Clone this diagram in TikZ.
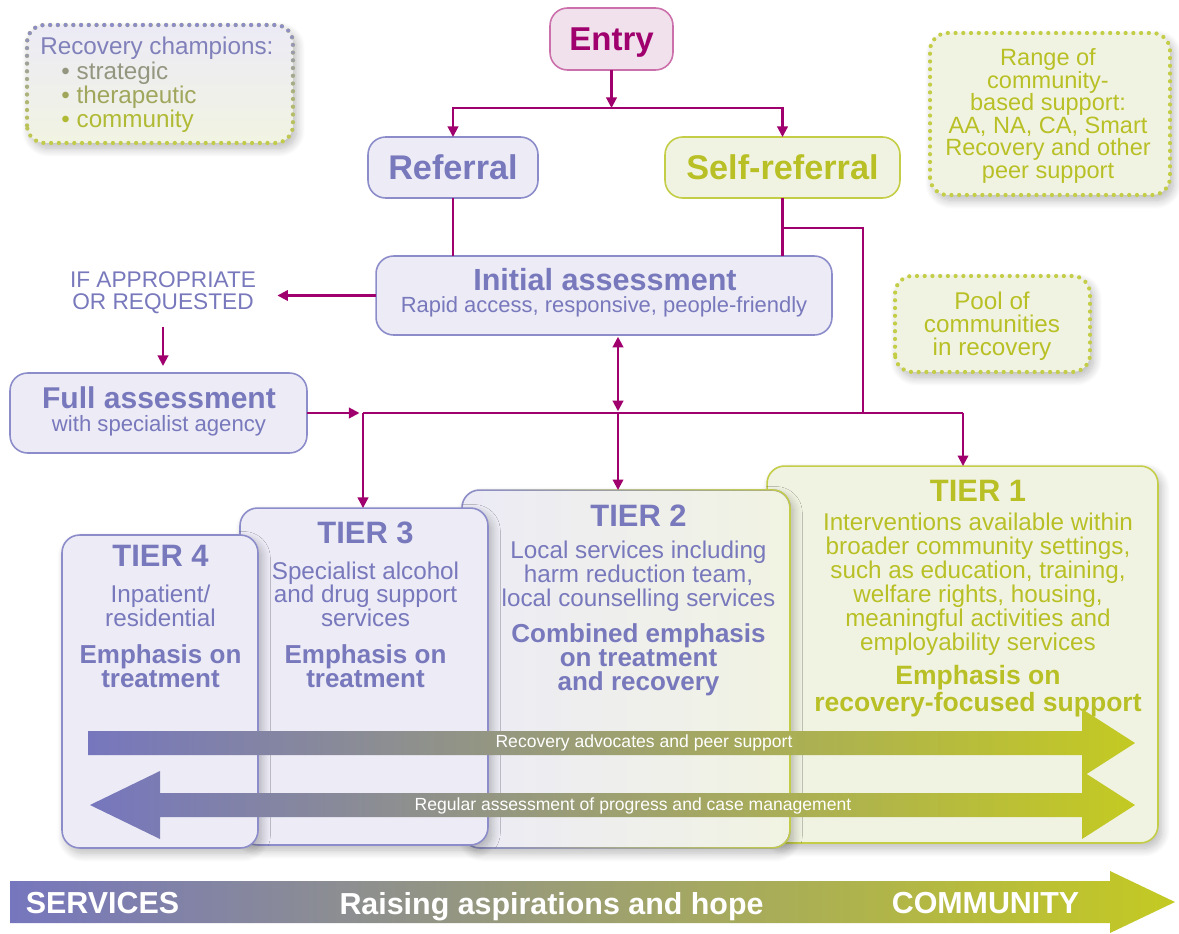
\documentclass[tikz,border=0pt]{standalone}
\usepackage{fontspec}
\setmainfont{Liberation Sans}
\usetikzlibrary{arrows.meta,shadows.blur,fadings,calc}

% palette
\definecolor{lavtext}{RGB}{120,120,188}
\definecolor{lavfill}{RGB}{236,235,246}
\definecolor{lavline}{RGB}{140,140,202}
\definecolor{grntext}{RGB}{184,192,38}
\definecolor{grnfill}{RGB}{241,243,226}
\definecolor{grnline}{RGB}{196,205,70}
\definecolor{linkmag}{RGB}{160,0,110}
\definecolor{entryfill}{RGB}{241,225,236}
\definecolor{entryline}{RGB}{204,112,172}
\definecolor{flowlav}{RGB}{118,118,190}
\definecolor{flowmid}{RGB}{145,148,146}
\definecolor{flowgrn}{RGB}{196,202,34}
\definecolor{champA}{RGB}{128,128,186}
\definecolor{champB}{RGB}{148,150,128}
\definecolor{champC}{RGB}{160,166,92}
\definecolor{champD}{RGB}{176,186,52}

\newcommand\setfs[2]{\fontsize{#1}{#2}\selectfont}

\tikzfading[name=fadeinright, left color=transparent!100, right color=transparent!0]
\tikzfading[name=fadeoutdown, top color=transparent!0, bottom color=transparent!100]

\tikzset{
  conn/.style={draw=linkmag, line width=1.2pt},
  arrowend/.style={-{Triangle[length=6pt,width=6pt]}},
  arrowboth/.style={{Triangle[length=6pt,width=6pt]}-{Triangle[length=6pt,width=6pt]}},
  softshadow/.style={blur shadow={shadow xshift=2pt, shadow yshift=-3pt, shadow blur radius=5pt, shadow blur steps=12, shadow opacity=28}},
  box/.style={rectangle, rounded corners=10pt, line width=0.9pt, outer sep=0pt, inner sep=0pt},
  lavbox/.style={box, draw=lavline, fill=lavfill},
  grnbox/.style={box, draw=grnline, fill=grnfill},
  dotline/.style={line width=2.4pt, dash pattern=on 0pt off 4.4pt, line cap=round},
  label/.style={inner sep=0pt, align=center},
  flowtext/.style={inner sep=0pt, text=white, font=\setfs{10}{12}},
  bandtext/.style={inner sep=0pt, text=white, text depth=0pt, font=\bfseries\setfs{17.3}{20}},
}

\begin{document}
\begin{tikzpicture}[x=0.02cm, y=-0.02cm]
\useasboundingbox (0,0) rectangle (1179,933);

% ---------- side notes ----------
\node[box, minimum width=5.32cm, minimum height=2.36cm, top color=lavfill, bottom color=grnfill, softshadow] (champ) at (160,84) {};
\draw[dotline, draw=grnline, rounded corners=10pt] (champ.south west) rectangle (champ.north east);
\draw[dotline, draw=lavline, rounded corners=10pt, path fading=fadeoutdown] (champ.south west) rectangle (champ.north east);
\node[inner sep=0pt, align=left, anchor=west, font=\setfs{13.8}{12.7}] (champtext) at (40,85)
  {\textcolor{champA}{Recovery champions:}\\
   \hspace*{12pt}\textcolor{champB}{\textbullet\ strategic}\\
   \hspace*{12pt}\textcolor{champC}{\textbullet\ therapeutic}\\
   \hspace*{12pt}\textcolor{champD}{\textbullet\ community}};

\node[box, minimum width=4.8cm, minimum height=3.24cm, fill=grnfill, softshadow, text=grntext, align=center, font=\setfs{13.4}{12.8}] (range) at (1050,114) {};
\node[label, text=grntext, font=\setfs{13.4}{12.8}] (rangetext) at (1048,116)
  {Range of\\community-\\based support:\\AA, NA, CA, Smart\\Recovery and other\\peer support};
\draw[dotline, draw=grnline, rounded corners=10pt] (range.south west) rectangle (range.north east);

\node[box, minimum width=3.9cm, minimum height=1.92cm, fill=grnfill, softshadow] (pool) at (992.5,324) {};
\node[label, text=grntext, font=\setfs{13.8}{13}] (pooltext) at (992,326) {Pool of\\communities\\in recovery};
\draw[dotline, draw=grnline, rounded corners=10pt] (pool.south west) rectangle (pool.north east);

% ---------- entry and referral ----------
\node[box, draw=entryline, fill=entryfill, minimum width=2.46cm, minimum height=1.24cm, text=linkmag, text depth=0pt, font=\bfseries\setfs{18.8}{22}] (entry) at (611.5,39) {Entry};
\node[lavbox, minimum width=3.4cm, minimum height=1.22cm, text=lavtext, text depth=0pt, font=\bfseries\setfs{19.5}{22}] (referral) at (453,167.5) {Referral};
\node[grnbox, minimum width=4.7cm, minimum height=1.22cm, text=grntext, text depth=0pt, font=\bfseries\setfs{19.5}{22}] (selfref) at (782.5,167.5) {Self-referral};

% ---------- assessments ----------
\node[lavbox, minimum width=9.12cm, minimum height=1.58cm] (initial) at (604,295.5) {};
\node[label, text=lavtext, font=\bfseries\setfs{17.4}{20}] (initialtitle) at (605,280) {Initial assessment};
\node[label, text=lavtext, font=\setfs{12.5}{15}] (initialsub) at (604,307) {Rapid access, responsive, people-friendly};

\node[label, text=lavtext, font=\setfs{12.9}{12.5}] (ifapp) at (163,293) {IF APPROPRIATE\\OR REQUESTED};

\node[lavbox, minimum width=5.94cm, minimum height=1.6cm] (full) at (158.5,413) {};
\node[label, text=lavtext, font=\bfseries\setfs{17.1}{20}] (fulltitle) at (159,398) {Full assessment};
\node[label, text=lavtext, font=\setfs{12.6}{15}] (fullsub) at (159,426) {with specialist agency};

% ---------- tiers (back to front) ----------
\node[grnbox, minimum width=7.82cm, minimum height=7.54cm, softshadow] (tier1) at (962.5,654.5) {};
\node[box, draw=lavline, left color=lavfill, right color=grnfill, minimum width=6.56cm, minimum height=7.16cm, softshadow] (tier2) at (626,669) {};
\draw[draw=grnline, line width=0.9pt, rounded corners=10pt, path fading=fadeinright] (tier2.south west) rectangle (tier2.north east);
\node[lavbox, minimum width=4.96cm, minimum height=6.74cm, softshadow] (tier3) at (364,676.5) {};
\node[lavbox, minimum width=3.92cm, minimum height=6.26cm, softshadow] (tier4) at (160,691.5) {};

% tier 4
\node[label, text=lavtext, font=\bfseries\setfs{17.6}{20}] (t4title) at (160.5,556) {TIER 4};
\node[label, text=lavtext, font=\setfs{13.8}{13.4}] (t4desc) at (160.5,606) {Inpatient/\\residential};
\node[label, text=lavtext, font=\bfseries\setfs{14.8}{13.8}] (t4emph) at (160.5,666) {Emphasis on\\treatment};
% tier 3
\node[label, text=lavtext, font=\bfseries\setfs{17.6}{20}] (t3title) at (365.5,533) {TIER 3};
\node[label, text=lavtext, font=\setfs{13.8}{13.4}] (t3desc) at (365.5,594) {Specialist alcohol\\and drug support\\services};
\node[label, text=lavtext, font=\bfseries\setfs{14.8}{13.8}] (t3emph) at (365.5,666) {Emphasis on\\treatment};
% tier 2
\node[label, text=lavtext, font=\bfseries\setfs{17.6}{20}] (t2title) at (638.5,516) {TIER 2};
\node[label, text=lavtext, font=\setfs{13.8}{13.6}] (t2desc) at (638.5,576) {Local services including\\harm reduction team,\\local counselling services};
\node[label, text=lavtext, font=\bfseries\setfs{14.8}{13.8}] (t2emph) at (638.5,660) {Combined emphasis\\on treatment\\and recovery};
% tier 1
\node[label, text=grntext, font=\bfseries\setfs{17.6}{20}] (t1title) at (978,491) {TIER 1};
\node[label, text=grntext, font=\setfs{13.8}{13.6}] (t1desc) at (978,584) {Interventions available within\\broader community settings,\\such as education, training,\\welfare rights, housing,\\meaningful activities and\\employability services};
\node[label, text=grntext, font=\bfseries\setfs{15.1}{13.8}] (t1emph) at (978,691) {Emphasis on\\recovery-focused support};

% ---------- flow arrows across the tiers ----------
\shade[left color=flowlav, middle color=flowmid, right color=flowgrn]
  (88,731) -- (1082,731) -- (1082,709) -- (1135,743) -- (1082,777) -- (1082,755) -- (88,755) -- cycle;
\node[flowtext] (advocates) at (644,743) {Recovery advocates and peer support};

\shade[left color=flowlav, middle color=flowmid, right color=flowgrn]
  (90,805) -- (160,771) -- (160,793) -- (1082,793) -- (1082,771) -- (1135,805) -- (1082,839) -- (1082,817) -- (160,817) -- (160,839) -- cycle;
\node[flowtext] (regular) at (633,806) {Regular assessment of progress and case management};

% ---------- bottom band ----------
\shade[left color=flowlav, middle color=flowmid, right color=flowgrn]
  (10,881) -- (1110,881) -- (1110,871) -- (1175,902) -- (1110,933) -- (1110,923) -- (10,923) -- cycle;
\node[bandtext] (services) at (102.5,903) {SERVICES};
\node[bandtext] (raising) at (551.5,903) {Raising aspirations and hope};
\node[bandtext] (community) at (985.5,903) {COMMUNITY};

% ---------- connectors ----------
\coordinate (topsplit) at (611.5,108);
\coordinate (sidebend) at (863,228);
\coordinate (barleft) at (363,413);
\coordinate (barmid) at (618,413);
\coordinate (barright) at (963,413);

\draw[conn, arrowend] (entry) -- (topsplit);
\draw[conn, arrowend] (topsplit) -| (referral.north);
\draw[conn, arrowend] (topsplit) -| (selfref.north);
\draw[conn] (referral.south) -- (referral.south |- initial.north);
\draw[conn] (selfref.south) -- (selfref.south |- initial.north);
\draw[conn] (selfref.south |- sidebend) -- (sidebend) -- (sidebend |- barright);
\draw[conn, arrowend, shorten >=12pt] (initial.west) -- (initial.west -| ifapp.east);
\draw[conn, arrowend, shorten <=7pt, shorten >=4pt] (ifapp.south) -- (ifapp.south |- full.north);
\draw[conn, arrowend, shorten >=2pt] (full.east) -- (barleft);
\draw[conn] (barleft) -- (barright);
\draw[conn, arrowboth, shorten <=1pt, shorten >=1pt] (barmid) -- (barmid |- initial.south);
\draw[conn, arrowend] (barleft) -- (barleft |- tier3.north);
\draw[conn, arrowend] (barmid) -- (barmid |- tier2.north);
\draw[conn, arrowend] (barright) -- (barright |- tier1.north);
\end{tikzpicture}
\end{document}
